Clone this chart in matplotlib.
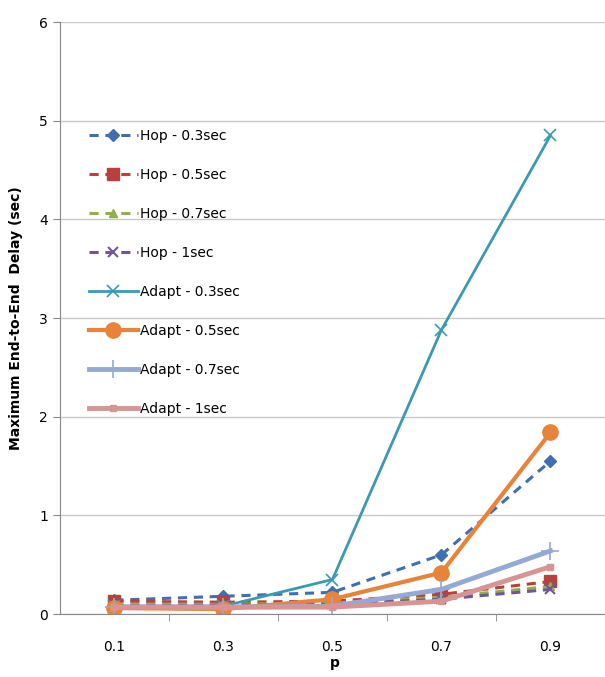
import numpy as np
import matplotlib.pyplot as plt

p_labels = ["0.1", "0.3", "0.5", "0.7", "0.9"]

hop_03 = [0.14, 0.18, 0.22, 0.60, 1.55]
hop_05 = [0.13, 0.12, 0.13, 0.20, 0.33]
hop_07 = [0.10, 0.10, 0.11, 0.17, 0.28]
hop_1 = [0.08, 0.09, 0.10, 0.15, 0.25]
adapt_03 = [0.08, 0.08, 0.35, 2.88, 4.85]
adapt_05 = [0.06, 0.05, 0.15, 0.42, 1.84]
adapt_07 = [0.07, 0.07, 0.08, 0.25, 0.64]
adapt_1 = [0.07, 0.07, 0.07, 0.13, 0.48]

x = np.arange(len(p_labels))

fig = plt.figure(figsize=(6.05, 6.77), dpi=100)
ax = fig.add_axes([0.099, 0.093, 0.91, 0.8745])

dash = (0, (3, 2.2))
ax.plot(x, hop_03, color="#3E6FB0", ls=dash, lw=2.2, marker="D", ms=6, label="Hop - 0.3sec")
ax.plot(x, hop_05, color="#B9403D", ls=dash, lw=2.2, marker="s", ms=8, label="Hop - 0.5sec")
ax.plot(x, hop_07, color="#8FB04A", ls=dash, lw=2.2, marker="^", ms=6, label="Hop - 0.7sec")
ax.plot(x, hop_1, color="#71569A", ls=dash, lw=2.2, marker="x", ms=7, mew=1.5, label="Hop - 1sec")
ax.plot(x, adapt_03, color="#3B9AB2", lw=2, marker="x", ms=8, mew=1.2, label="Adapt - 0.3sec")
ax.plot(x, adapt_05, color="#E8843A", lw=3, marker="o", ms=11, label="Adapt - 0.5sec")
ax.plot(x, adapt_07, color="#94A9D3", lw=3.5, marker="+", ms=13, mew=1.2, label="Adapt - 0.7sec")
ax.plot(x, adapt_1, color="#D69593", lw=3.5, marker="s", ms=4, label="Adapt - 1sec")

ax.set_xlim(-0.5, 4.55)
ax.set_ylim(0, 6)
ax.set_yticks(range(7))
ax.set_xticks(x)
ax.set_xticklabels(p_labels)
ax.set_xticks(x[:-1] + 0.5, minor=True)
ax.tick_params(axis="x", which="major", length=0, pad=19, labelsize=10)
ax.tick_params(axis="x", which="minor", length=5, color="#888888")
ax.tick_params(axis="y", length=5, color="#888888", labelsize=10)
ax.grid(axis="y", color="#c8c8c8", lw=1)
ax.set_axisbelow(True)
for s in ["top", "right"]:
    ax.spines[s].set_visible(False)
ax.spines["left"].set_color("#888888")
ax.spines["bottom"].set_color("#888888")

ax.set_xlabel("p", fontweight="bold", fontsize=10, labelpad=1)
ax.set_ylabel("Maximum End-to-End  Delay (sec)", fontweight="bold", fontsize=10, labelpad=12)

ax.legend(loc="upper left", bbox_to_anchor=(0.03, 0.84), frameon=False, fontsize=10,
          handlelength=3.5, labelspacing=1.8, handletextpad=0.2)

fig.savefig("out.png", dpi=100)
